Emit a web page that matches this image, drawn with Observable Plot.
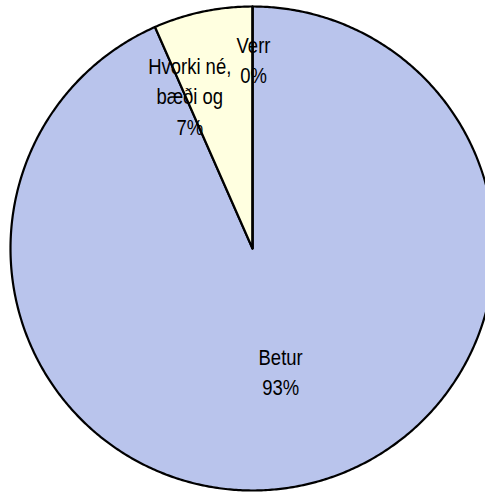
<!DOCTYPE html>
<html>
<head>
<meta charset="utf-8">
<script src="https://cdn.jsdelivr.net/npm/d3@7"></script>
<script src="https://cdn.jsdelivr.net/npm/@observablehq/plot@0.6"></script>
<style>
  html, body { margin: 0; padding: 0; background: #fff; overflow: hidden; }
</style>
</head>
<body>
<div id="chart"></div>
<script>
// Data
const categories = ["Betur", "Hvorki né, bæði og", "Verr"];
const values = [93.4, 6.6, 0];
const colors = ["#B9C4EC", "#FFFFE0", "#FFFFE0"];

// Layout
const W = 485, H = 492;
const cx = 252, cy = 248, R = 242;
// label placement: radius fraction and angular nudge (degrees)
const labelLayout = [
  {r: 0.517, da: -1.1},
  {r: 0.687, da: -10.3},
  {r: 0.787, da: 0.3}
];

const total = d3.sum(values);
const pie = d3.pie().sort(null).value(d => d)(values);

// polygon points for each slice (angles clockwise from 12 o'clock)
const pts = [];
pie.forEach((p, i) => {
  const name = categories[i];
  pts.push({name, x: 0, y: 0});
  const n = Math.max(2, Math.ceil((p.endAngle - p.startAngle) / (Math.PI / 360)));
  for (let k = 0; k <= n; k++) {
    const a = p.startAngle + (p.endAngle - p.startAngle) * k / n;
    pts.push({name, x: Math.sin(a), y: Math.cos(a)});
  }
  pts.push({name, x: 0, y: 0});
});

const labels = pie.map((p, i) => {
  const mid = (p.startAngle + p.endAngle) / 2 + labelLayout[i].da * Math.PI / 180;
  const r = labelLayout[i].r;
  const pct = Math.round(values[i] / total * 100) + "%";
  const name = categories[i].replace(", ", ",\n");
  return {x: r * Math.sin(mid), y: r * Math.cos(mid), text: name + "\n" + pct};
});

const chart = Plot.plot({
  width: W,
  height: H,
  margin: 0,
  x: {domain: [(0 - cx) / R, (W - cx) / R], range: [0, W], axis: null},
  y: {domain: [(cy - H) / R, cy / R], range: [H, 0], axis: null},
  color: {domain: categories, range: colors},
  style: {fontFamily: "'Liberation Sans', Arial, sans-serif", background: "#fff"},
  marks: [
    Plot.line(pts, {x: "x", y: "y", z: "name", fill: "name", stroke: "#000", strokeWidth: 2.2, strokeLinejoin: "round"}),
    Plot.text(labels, {x: "x", y: "y", text: "text", fontSize: 22, lineHeight: 1.39, fill: "#000", textAnchor: "middle"})
  ]
});
// horizontally condense label text to mimic the narrow typeface of the original
d3.select(chart).selectAll("text").each(function() {
  const t = this.getAttribute("transform");
  if (t) this.setAttribute("transform", t + " scale(0.84,1)");
});
document.getElementById("chart").appendChild(chart);
</script>
</body>
</html>
